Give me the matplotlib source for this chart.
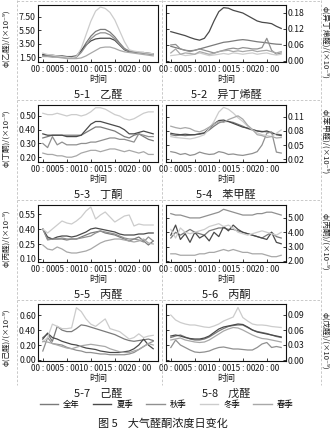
import matplotlib
matplotlib.use("Agg")
import matplotlib.pyplot as plt
from matplotlib.lines import Line2D

plt.rcParams['font.family'] = ['Noto Sans CJK SC', 'DejaVu Sans']
plt.rcParams['axes.unicode_minus'] = False

hours = list(range(24))
seasons = ["全年", "夏季", "秋季", "冬季", "春季"]
season_colors = ["#7a7a7a", "#4a4a4a", "#909090", "#cccccc", "#a8a8a8"]
xtick_pos = [0, 5, 10, 15, 20]
xtick_labels = ["00 : 00", "05 : 00", "10 : 00", "15 : 00", "20 : 00"]

# 5-1 乙醛 (order: 全年, 夏季, 秋季, 冬季, 春季)
acetaldehyde = [
    [1.8, 1.7, 1.7, 1.6, 1.6, 1.5, 1.5, 1.6, 2.4, 3.6, 4.6, 5.3, 5.6, 5.6, 5.2, 4.5, 3.6, 2.8, 2.4, 2.3, 2.2, 2.1, 2.0, 1.9],
    [1.9, 1.8, 1.8, 1.7, 1.7, 1.6, 1.6, 1.7, 2.5, 3.3, 3.9, 4.2, 4.3, 4.3, 4.3, 4.0, 3.3, 2.6, 2.3, 2.3, 2.2, 2.2, 2.1, 2.0],
    [1.7, 1.7, 1.6, 1.6, 1.5, 1.5, 1.5, 1.5, 2.2, 3.2, 4.2, 4.8, 5.1, 5.1, 4.8, 4.2, 3.4, 2.7, 2.4, 2.3, 2.2, 2.1, 2.0, 1.9],
    [2.1, 1.9, 1.8, 1.7, 1.6, 1.5, 1.4, 1.6, 2.8, 4.8, 6.8, 8.3, 8.9, 8.7, 8.1, 7.0, 5.4, 3.8, 2.6, 2.4, 2.3, 2.2, 2.1, 2.0],
    [1.6, 1.6, 1.5, 1.5, 1.4, 1.3, 1.3, 1.3, 1.4, 1.7, 2.1, 2.5, 2.9, 3.0, 3.0, 2.8, 2.5, 2.3, 2.2, 2.1, 2.0, 1.9, 1.8, 1.7],
]
# 5-2 异丁烯醛
methacrolein = [
    [0.055, 0.050, 0.045, 0.040, 0.038, 0.040, 0.045, 0.050, 0.055, 0.060, 0.065, 0.070, 0.072, 0.075, 0.078, 0.080, 0.078, 0.075, 0.072, 0.070, 0.068, 0.065, 0.063, 0.062],
    [0.110, 0.105, 0.100, 0.095, 0.088, 0.082, 0.078, 0.085, 0.110, 0.150, 0.185, 0.200, 0.198, 0.190, 0.185, 0.180, 0.170, 0.160, 0.150, 0.145, 0.143, 0.140, 0.130, 0.122],
    [0.060, 0.062, 0.045, 0.040, 0.035, 0.040, 0.045, 0.040, 0.035, 0.030, 0.035, 0.040, 0.045, 0.048, 0.045, 0.050, 0.048, 0.045, 0.045, 0.050, 0.085, 0.040, 0.025, 0.030],
    [0.020, 0.022, 0.025, 0.020, 0.022, 0.025, 0.030, 0.025, 0.020, 0.022, 0.025, 0.028, 0.025, 0.030, 0.028, 0.025, 0.028, 0.030, 0.025, 0.028, 0.030, 0.025, 0.022, 0.025],
    [0.030, 0.045, 0.025, 0.030, 0.028, 0.025, 0.035, 0.030, 0.025, 0.028, 0.035, 0.038, 0.040, 0.035, 0.038, 0.035, 0.038, 0.040, 0.035, 0.038, 0.040, 0.035, 0.030, 0.035],
]
# 5-3 丁酮
butanone = [
    [0.34, 0.35, 0.36, 0.36, 0.36, 0.36, 0.36, 0.36, 0.36, 0.38, 0.40, 0.42, 0.42, 0.41, 0.40, 0.39, 0.37, 0.35, 0.34, 0.36, 0.37, 0.35, 0.33, 0.32],
    [0.37, 0.36, 0.36, 0.36, 0.36, 0.35, 0.35, 0.35, 0.36, 0.40, 0.44, 0.46, 0.46, 0.45, 0.44, 0.43, 0.42, 0.40, 0.37, 0.37, 0.38, 0.39, 0.38, 0.37],
    [0.30, 0.27, 0.35, 0.29, 0.31, 0.29, 0.29, 0.29, 0.30, 0.30, 0.31, 0.31, 0.32, 0.33, 0.34, 0.34, 0.33, 0.33, 0.32, 0.31, 0.37, 0.36, 0.35, 0.35],
    [0.52, 0.51, 0.51, 0.52, 0.51, 0.50, 0.51, 0.51, 0.50, 0.51, 0.53, 0.56, 0.56, 0.55, 0.53, 0.51, 0.50, 0.48, 0.47, 0.48, 0.50, 0.52, 0.53, 0.53],
    [0.23, 0.22, 0.22, 0.21, 0.21, 0.20, 0.20, 0.21, 0.23, 0.24, 0.25, 0.25, 0.24, 0.25, 0.26, 0.26, 0.25, 0.24, 0.25, 0.24, 0.23, 0.24, 0.22, 0.22],
]
# 5-4 苯甲醛
benzaldehyde = [
    [0.072, 0.070, 0.071, 0.070, 0.071, 0.072, 0.073, 0.075, 0.082, 0.090, 0.097, 0.100, 0.100, 0.098, 0.094, 0.090, 0.085, 0.082, 0.080, 0.079, 0.078, 0.076, 0.073, 0.072],
    [0.075, 0.073, 0.072, 0.073, 0.072, 0.072, 0.074, 0.076, 0.085, 0.095, 0.102, 0.103, 0.100, 0.096, 0.092, 0.088, 0.086, 0.083, 0.080, 0.078, 0.080, 0.076, 0.072, 0.070],
    [0.036, 0.034, 0.030, 0.032, 0.028, 0.030, 0.035, 0.032, 0.030, 0.031, 0.036, 0.034, 0.030, 0.031, 0.029, 0.028, 0.030, 0.032, 0.036, 0.050, 0.075, 0.078, 0.035, 0.033],
    [0.068, 0.066, 0.065, 0.064, 0.063, 0.065, 0.068, 0.072, 0.085, 0.100, 0.120, 0.130, 0.126, 0.118, 0.108, 0.100, 0.090, 0.082, 0.076, 0.072, 0.070, 0.068, 0.075, 0.082],
    [0.090, 0.087, 0.085, 0.087, 0.085, 0.080, 0.078, 0.082, 0.088, 0.095, 0.100, 0.098, 0.104, 0.108, 0.112, 0.105, 0.092, 0.083, 0.072, 0.070, 0.066, 0.068, 0.065, 0.066],
]
# 5-5 丙醛
propanal = [
    [0.40, 0.30, 0.30, 0.30, 0.30, 0.29, 0.30, 0.30, 0.32, 0.34, 0.36, 0.37, 0.38, 0.36, 0.35, 0.34, 0.32, 0.30, 0.28, 0.30, 0.32, 0.28, 0.24, 0.28],
    [0.40, 0.32, 0.30, 0.32, 0.33, 0.33, 0.32, 0.33, 0.35, 0.37, 0.40, 0.41, 0.40, 0.39, 0.38, 0.37, 0.35, 0.34, 0.34, 0.34, 0.35, 0.35, 0.36, 0.36],
    [0.40, 0.29, 0.30, 0.30, 0.31, 0.30, 0.30, 0.30, 0.31, 0.32, 0.33, 0.36, 0.38, 0.37, 0.36, 0.35, 0.33, 0.31, 0.30, 0.30, 0.29, 0.27, 0.32, 0.28],
    [0.40, 0.36, 0.40, 0.44, 0.48, 0.46, 0.45, 0.48, 0.52, 0.58, 0.62, 0.50, 0.54, 0.57, 0.52, 0.47, 0.50, 0.53, 0.54, 0.43, 0.45, 0.44, 0.44, 0.44],
    [0.24, 0.20, 0.19, 0.22, 0.20, 0.17, 0.16, 0.16, 0.17, 0.18, 0.20, 0.23, 0.26, 0.28, 0.29, 0.30, 0.30, 0.29, 0.28, 0.27, 0.28, 0.30, 0.26, 0.25],
]
# 5-6 丙酮
acetone = [
    [3.6, 4.0, 3.8, 4.0, 4.2, 4.0, 3.9, 3.8, 4.1, 4.2, 4.3, 4.3, 4.2, 4.2, 4.1, 4.0, 3.9, 3.8, 3.7, 3.6, 3.8, 4.0, 3.7, 3.6],
    [3.8, 4.5, 3.5, 3.9, 3.3, 4.0, 3.6, 3.8, 3.4, 4.0, 3.7, 4.4, 4.1, 4.5, 4.2, 4.0, 3.9, 3.8, 3.7, 3.6, 3.5, 4.0, 3.3, 3.2],
    [5.3, 5.2, 5.2, 5.1, 5.0, 5.0, 5.0, 5.1, 5.2, 5.3, 5.4, 5.6, 5.5, 5.4, 5.3, 5.2, 5.2, 5.2, 5.3, 5.3, 5.4, 5.4, 5.3, 5.2],
    [4.2, 3.6, 4.3, 4.0, 3.9, 4.0, 4.1, 4.2, 4.4, 4.5, 4.6, 4.4, 4.5, 4.3, 4.0, 3.9, 3.8, 3.9, 4.0, 4.1, 4.0, 3.9, 3.8, 4.0],
    [2.5, 2.5, 2.4, 2.4, 2.4, 2.4, 2.5, 2.5, 2.6, 2.6, 2.7, 2.8, 2.7, 2.8, 2.7, 2.6, 2.6, 2.5, 2.5, 2.5, 2.4, 2.3, 2.3, 2.4],
]
# 5-7 己醛
hexanal = [
    [0.30, 0.35, 0.25, 0.45, 0.40, 0.38, 0.38, 0.42, 0.47, 0.46, 0.44, 0.42, 0.40, 0.38, 0.36, 0.34, 0.31, 0.28, 0.26, 0.25, 0.26, 0.27, 0.28, 0.26],
    [0.28, 0.36, 0.30, 0.28, 0.25, 0.23, 0.21, 0.20, 0.18, 0.16, 0.15, 0.14, 0.12, 0.11, 0.10, 0.10, 0.10, 0.11, 0.12, 0.15, 0.20, 0.28, 0.20, 0.15],
    [0.12, 0.30, 0.22, 0.21, 0.20, 0.17, 0.15, 0.13, 0.12, 0.10, 0.10, 0.09, 0.08, 0.08, 0.07, 0.07, 0.07, 0.07, 0.08, 0.10, 0.14, 0.18, 0.22, 0.25],
    [0.24, 0.30, 0.48, 0.45, 0.42, 0.42, 0.43, 0.70, 0.65, 0.55, 0.48, 0.45, 0.50, 0.55, 0.42, 0.40, 0.38, 0.33, 0.28, 0.30, 0.35, 0.30, 0.32, 0.33],
    [0.25, 0.24, 0.22, 0.20, 0.18, 0.16, 0.15, 0.17, 0.19, 0.20, 0.21, 0.20, 0.19, 0.18, 0.15, 0.13, 0.11, 0.10, 0.10, 0.12, 0.14, 0.18, 0.22, 0.20],
]
# 5-8 戊醛
pentanal = [
    [0.045, 0.048, 0.050, 0.046, 0.042, 0.040, 0.040, 0.042, 0.046, 0.052, 0.058, 0.063, 0.067, 0.069, 0.070, 0.070, 0.065, 0.060, 0.057, 0.055, 0.053, 0.050, 0.047, 0.045],
    [0.048, 0.050, 0.048, 0.045, 0.043, 0.042, 0.042, 0.044, 0.048, 0.055, 0.062, 0.066, 0.068, 0.070, 0.072, 0.071, 0.066, 0.060, 0.056, 0.054, 0.052, 0.050, 0.048, 0.046],
    [0.025, 0.040, 0.030, 0.025, 0.020, 0.016, 0.015, 0.016, 0.018, 0.022, 0.025, 0.026, 0.024, 0.022, 0.022, 0.021, 0.020, 0.020, 0.025, 0.032, 0.035, 0.025, 0.027, 0.025],
    [0.090, 0.080, 0.075, 0.072, 0.070, 0.070, 0.068, 0.066, 0.065, 0.068, 0.072, 0.078, 0.082, 0.086, 0.105, 0.085, 0.078, 0.072, 0.070, 0.070, 0.069, 0.067, 0.066, 0.065],
    [0.040, 0.042, 0.044, 0.040, 0.038, 0.036, 0.035, 0.036, 0.040, 0.046, 0.052, 0.058, 0.062, 0.065, 0.064, 0.060, 0.055, 0.050, 0.046, 0.043, 0.042, 0.040, 0.038, 0.036],
]

panels = [
    ("5-1", "乙醛", acetaldehyde, [1.5, 3.5, 5.5, 7.5], (0.8, 9.2)),
    ("5-2", "异丁烯醛", methacrolein, [0.0, 0.06, 0.12, 0.18], (-0.004, 0.21)),
    ("5-3", "丁酮", butanone, [0.2, 0.3, 0.4, 0.5], (0.165, 0.58)),
    ("5-4", "苯甲醛", benzaldehyde, [0.02, 0.05, 0.08, 0.11], (0.014, 0.135)),
    ("5-5", "丙醛", propanal, [0.10, 0.25, 0.40, 0.55], (0.07, 0.64)),
    ("5-6", "丙酮", acetone, [2.0, 3.0, 4.0, 5.0], (1.93, 5.9)),
    ("5-7", "己醛", hexanal, [0.0, 0.2, 0.4, 0.6], (-0.014, 0.75)),
    ("5-8", "戊醛", pentanal, [0.0, 0.03, 0.06, 0.09], (-0.002, 0.112)),
]

W, H = 333, 432
fig = plt.figure(figsize=(W / 100, H / 100), dpi=100)

# dashed cell frames
for xv in [17, 162, 321]:
    fig.add_artist(Line2D([xv / W, xv / W], [1 - 0 / H, 1 - 385 / H], transform=fig.transFigure,
                          color="#c0c0c0", lw=0.6, ls=(0, (3, 2))))
for yv in [1, 100, 200, 300]:
    fig.add_artist(Line2D([17 / W, 321 / W], [1 - yv / H, 1 - yv / H], transform=fig.transFigure,
                          color="#c0c0c0", lw=0.6, ls=(0, (3, 2))))

row_tops = [5, 105, 205, 304]
col_lefts = [38, 166]
txt = "#1a1a1a"

for i, (num, name, series, yt, ylim) in enumerate(panels):
    r, c = i // 2, i % 2
    left = col_lefts[c] / W
    bottom = 1 - (row_tops[r] + 57) / H
    ax = fig.add_axes([left, bottom, 120 / W, 57 / H])
    for vals, col in zip(series, season_colors):
        ax.plot(hours, vals, color=col, lw=0.9)
    ax.set_xlim(-1, 24)
    ax.set_ylim(*ylim)
    ax.set_xticks(xtick_pos)
    ax.set_xticklabels(xtick_labels)
    ax.set_yticks(yt)
    ax.set_yticklabels(["%.2f" % v for v in yt])
    ax.tick_params(direction="in", length=2.5, width=0.6, labelsize=6.3, colors=txt, pad=1.5)
    ax.tick_params(axis="x", labelsize=6, pad=2)
    for s in ax.spines.values():
        s.set_linewidth(0.8)
        s.set_color("#111111")
    ax.set_xlabel("时间", fontsize=6.5, labelpad=1, color=txt)
    ylab = "φ(" + name + ")/(×10⁻⁹)"
    if c == 0:
        ax.set_ylabel(ylab, fontsize=5.5, color=txt, va="center")
        ax.yaxis.set_label_coords(-0.262, 0.42)
    else:
        ax.yaxis.tick_right()
        ax.tick_params(axis="y", left=True, right=True, labelleft=False, labelright=True)
        ax.yaxis.set_label_position("right")
        ax.set_ylabel(ylab, fontsize=5.5, color=txt, rotation=270, va="center")
        ax.yaxis.set_label_coords(1.325, 0.35)
    cx = (col_lefts[c] + 60) / W
    fig.text(cx, 1 - (row_tops[r] + 90) / H, num + "    " + name, ha="center", va="center",
             fontsize=8, color=txt)

# legend
handles = [Line2D([], [], color=col, lw=1.0) for col in season_colors]
fig.legend(handles, seasons, loc="center", bbox_to_anchor=(0.5, 1 - 404 / H), ncol=5, frameon=False,
           fontsize=6, handlelength=2.2, handletextpad=0.6, columnspacing=1.6)

fig.text(0.49, 1 - 424 / H, "图 5    大气醛酮浓度日变化", ha="center", va="center", fontsize=8, color=txt)

fig.savefig("out.png", dpi=100)
